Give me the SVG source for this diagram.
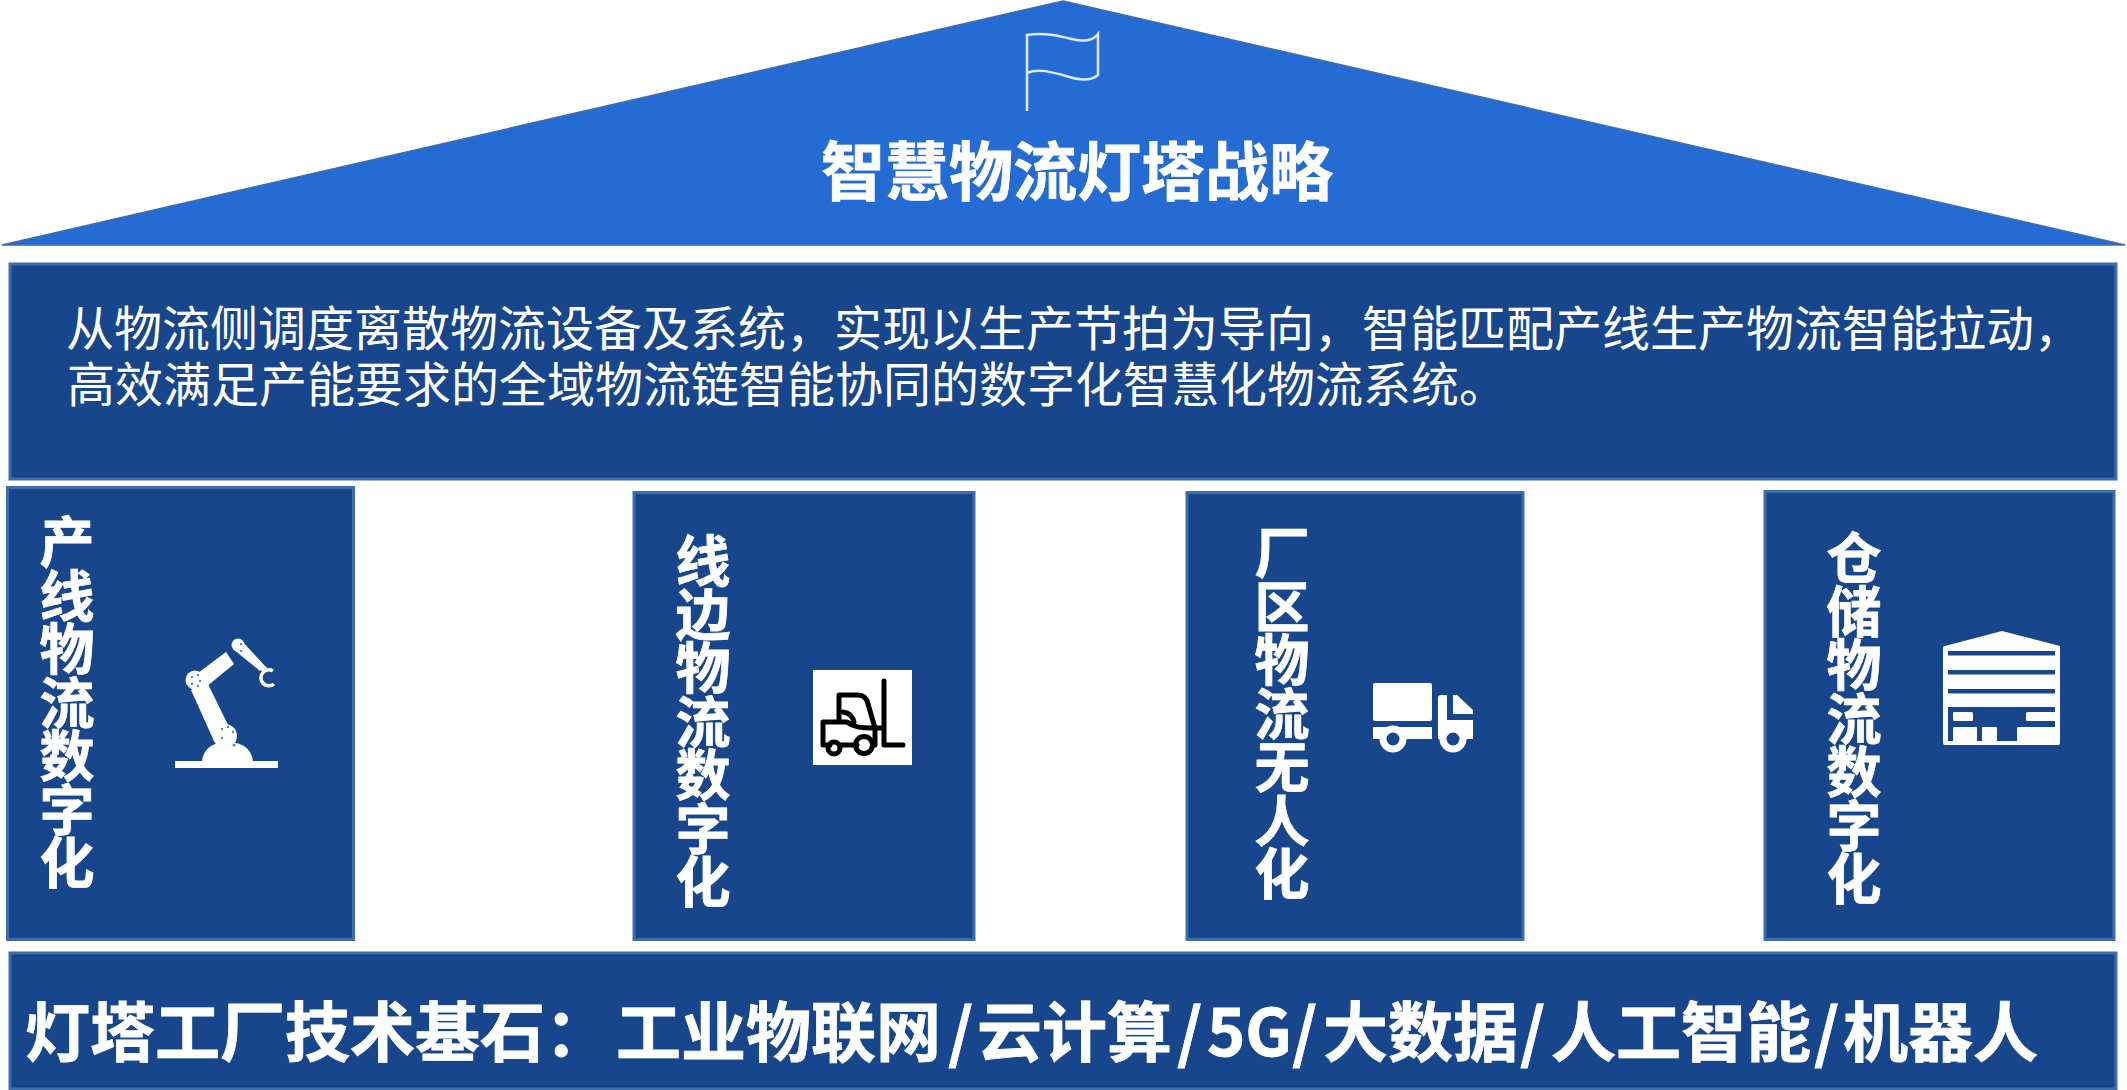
<svg xmlns="http://www.w3.org/2000/svg" width="2127" height="1090" viewBox="0 0 2127 1090">
<style>
.box{fill:#17468c;stroke:#3f6cab;stroke-width:3}
text{font-family:"Noto Sans CJK SC","Liberation Sans",sans-serif;fill:#fff}
.b{font-weight:700;stroke:#fff;stroke-width:.8}
.v{font-weight:700;font-size:55px;writing-mode:vertical-rl;letter-spacing:-1.5px;stroke:#fff;stroke-width:.8}
.w{fill:#fff}
.d{fill:#17468c}
.k{fill:none;stroke:#000;stroke-width:5;stroke-linecap:round;stroke-linejoin:round}
.p{fill:#5f86bd}
</style>
<rect width="2127" height="1090" fill="#fff"/>
<g id="roof">
<polygon points="1063,1 2125,245 2,245" fill="#246bd4" stroke="#3f6cab" stroke-width="1.500"/>
<path d="M1027,111V35C1045,32 1060,36 1072,39C1084,42 1093,41 1098,34V75C1090,82 1078,80 1066,76C1052,72 1038,68 1027,73" fill="none" stroke="#dfe8f6" stroke-width="2.500"/>
<text class="b" x="1077" y="195" font-size="64" text-anchor="middle">智慧物流灯塔战略</text>
</g>
<g id="description">
<rect class="box" x="10" y="264" width="2106" height="215"/>
<text font-size="48"><tspan x="66" y="346">从物流侧调度离散物流设备及系统&#xFF0C;实现以生产节拍为导向&#xFF0C;智能匹配产线生产物流智能拉动&#xFF0C;</tspan><tspan x="67" y="402">高效满足产能要求的全域物流链智能协同的数字化智慧化物流系统&#x3002;</tspan></text>
</g>
<g id="pillar1">
<rect class="box" x="7.500" y="487.500" width="346" height="452"/>
<text class="v" x="67" y="514">产线物流数字化</text>
<g id="robot">
<rect class="w" x="175" y="761" width="103" height="7"/>
<path class="w" d="M202,762C203,748 214,742 227,742C241,742 252,748 253,762Z"/>
<path class="w" d="M191,690L207,682L233,735L214,741Z"/>
<path class="w" d="M194,676L226,652L234,664L206,687Z"/>
<circle class="w" cx="195" cy="680" r="9.500"/>
<circle class="w" cx="225" cy="736" r="12"/>
<circle class="w" cx="238" cy="645" r="6.500"/>
<path class="w" d="M233,649L241,640L265,666L260,671Z"/>
<path d="M273,671A8,8 0 1 0 274,684" fill="none" stroke="#fff" stroke-width="3.500"/>
<circle class="w" cx="264" cy="669" r="3"/>
<g class="p">
<circle cx="192" cy="677" r="1.200"/><circle cx="198" cy="675" r="1.200"/><circle cx="192" cy="684" r="1.200"/><circle cx="198" cy="686" r="1.200"/><circle cx="200" cy="681" r="1.200"/>
<circle cx="222" cy="729" r="1.200"/><circle cx="228" cy="727" r="1.200"/><circle cx="222" cy="738" r="1.200"/><circle cx="233" cy="732" r="1.200"/><circle cx="234" cy="745" r="1.500"/><circle cx="241" cy="644" r="1.200"/><circle cx="241" cy="651" r="1.200"/>
</g>
</g>
</g>
<g id="pillar2">
<rect class="box" x="634" y="492.500" width="340" height="447"/>
<text class="v" x="703" y="533">线边物流数字化</text>
<g id="forklift">
<rect class="w" x="813" y="670" width="99" height="95"/>
<path class="k" d="M884,681V745H903M839,721V695H858C864,695 867,699 868,704L875,728H884M823,722H847C853,727 860,728 875,728V745M823,722V745H830M841,745H857M884,728H875"/>
<path class="k" d="M843,712C850,713 853,717 854,722"/>
<circle class="k" cx="834" cy="748" r="6"/>
<circle class="k" cx="864" cy="745" r="8.500"/>
</g>
</g>
<g id="pillar3">
<rect class="box" x="1187" y="492.500" width="336" height="447"/>
<text class="v" x="1282" y="525">厂区物流无人化</text>
<g id="truck">
<rect class="w" x="1373" y="683" width="59" height="38" rx="2"/>
<path class="w" d="M1373,727H1432V739H1373Z"/>
<circle class="w" cx="1393" cy="739" r="13.500"/>
<circle class="d" cx="1393" cy="739" r="6.500"/>
<path class="w" d="M1441,695H1447V720H1473V739H1438V698Q1438,695 1441,695Z"/>
<path class="w" d="M1453,695H1457L1473,710V714H1453Z"/>
<circle class="w" cx="1453" cy="739" r="13.500"/>
<circle class="d" cx="1453" cy="739" r="6.500"/>
</g>
</g>
<g id="pillar4">
<rect class="box" x="1765" y="491.500" width="349" height="448"/>
<text class="v" x="1854" y="530">仓储物流数字化</text>
<g id="warehouse">
<path class="w" d="M2002,631L2060,646V743Q2060,745 2058,745H1945Q1943,745 1943,743V648Q1943,646 1945,646Z"/>
<g class="d">
<rect x="1948" y="651" width="107" height="4.500"/>
<rect x="1948" y="670" width="107" height="4.500"/>
<rect x="1948" y="689" width="107" height="4.500"/>
<rect x="1948" y="707" width="107" height="34"/>
</g>
<g class="w">
<rect x="1953" y="712" width="20" height="9" rx="1.500"/>
<rect x="2026" y="712" width="34" height="9" rx="1.500"/>
<rect x="1953" y="727" width="24" height="14" rx="1"/>
<rect x="1982" y="727" width="15" height="14" rx="1"/>
<rect x="2017" y="727" width="43" height="14" rx="1"/>
</g>
</g>
</g>
<g id="foundation">
<rect class="box" x="10" y="953" width="2106" height="136"/>
<text class="b" y="1056" font-size="65"><tspan x="25">灯塔工厂技术基石&#xFF1A;</tspan><tspan x="616">工业物联网</tspan><tspan x="948">/</tspan><tspan x="977">云计算</tspan><tspan x="1177">/</tspan><tspan x="1207">5G</tspan><tspan x="1292">/</tspan><tspan x="1323">大数据</tspan><tspan x="1520">/</tspan><tspan x="1551">人工智能</tspan><tspan x="1814">/</tspan><tspan x="1843">机器人</tspan></text>
</g>
<g id="connectors"/>
</svg>
